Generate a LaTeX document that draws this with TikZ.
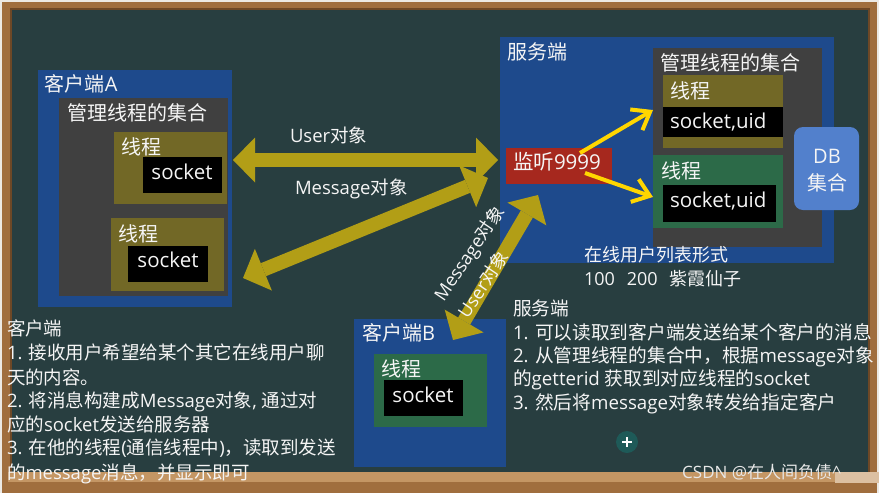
\documentclass[tikz,border=0pt]{standalone}
\usepackage{fontspec}
\setmainfont{Open Sans}
\newfontfamily\cjkf{Noto Sans CJK SC}
\XeTeXinterchartokenstate=1
\newXeTeXintercharclass\cjkclass
\count255="3000 \loop\ifnum\count255<"3040 \XeTeXcharclass\count255=\cjkclass \advance\count255 by 1 \repeat
\count255="4E00 \loop\ifnum\count255<"A000 \XeTeXcharclass\count255=\cjkclass \advance\count255 by 1 \repeat
\count255="FF00 \loop\ifnum\count255<"FFF0 \XeTeXcharclass\count255=\cjkclass \advance\count255 by 1 \repeat
\XeTeXinterchartoks 0 \cjkclass = {\begingroup\cjkf}
\XeTeXinterchartoks 4095 \cjkclass = {\begingroup\cjkf}
\XeTeXinterchartoks \cjkclass 0 = {\endgroup}
\XeTeXinterchartoks \cjkclass 4095 = {\endgroup}
\usetikzlibrary{arrows.meta}
\definecolor{boardc}{RGB}{40,62,64}
\definecolor{woodc}{RGB}{160,110,62}
\definecolor{wooddark}{RGB}{110,72,38}
\definecolor{woodlight}{RGB}{196,150,100}
\definecolor{paperc}{RGB}{236,233,228}
\definecolor{bluec}{RGB}{30,74,140}
\definecolor{grayc}{RGB}{64,64,64}
\definecolor{olivec}{RGB}{114,104,38}
\definecolor{greenc}{RGB}{44,106,72}
\definecolor{redc}{RGB}{166,40,30}
\definecolor{dbc}{RGB}{82,128,204}
\definecolor{goldc}{RGB}{178,158,22}
\definecolor{yellowc}{RGB}{255,214,0}
\definecolor{textc}{RGB}{245,245,245}
\definecolor{iconc}{RGB}{30,90,88}
\newcommand\myfs[1]{\fontsize{#1pt}{#1pt}\selectfont}
\begin{document}
\begin{tikzpicture}[x=1pt,y=-1pt,
 box/.style={anchor=north west,inner sep=0pt,outer sep=0pt,draw=none},
 lab/.style={anchor=base west,inner sep=0pt,outer sep=0pt,text=textc},
 bigarrow/.style={draw=goldc,line width=14pt,{Triangle[length=22pt,width=45pt,line width=0pt]}-{Triangle[length=22pt,width=45pt,line width=0pt]}},
 yarrow/.style={draw=yellowc,line width=4pt,-{Straight Barb[length=16pt,width=24pt]}}]
\useasboundingbox (0,0) rectangle (879,493);
% frame
\fill[paperc] (0,0) rectangle (879,493);
\fill[woodc] (2,2) rectangle (877,493);
\fill[wooddark] (10,8) rectangle (870,474);
\fill[boardc] (12,10) rectangle (868,472);
\fill[woodlight] (8,472) rectangle (872,482);
\fill[woodlight!60!white] (835,472) rectangle (879,483);

% client A
\node[box,fill=bluec,minimum width=194pt,minimum height=237pt] (cA) at (38,70) {};
\node[box,fill=grayc,minimum width=169pt,minimum height=198pt] (gA) at (59,98) {};
\node[box,fill=olivec,minimum width=113pt,minimum height=72pt] (tA1) at (114,132) {};
\node[box,fill=black,minimum width=79pt,minimum height=36pt] (sA1) at (143,157) {};
\node[box,fill=olivec,minimum width=113pt,minimum height=73pt] (tA2) at (111,218) {};
\node[box,fill=black,minimum width=80pt,minimum height=36pt] (sA2) at (128,246) {};
\node[lab,font=\myfs{20}] (tcA) at (45,91) {客户端A};
\node[lab,font=\myfs{20}] (tgA) at (67,120) {管理线程的集合};
\node[lab,font=\myfs{20}] (ttA1) at (121,154) {线程};
\node[lab,font=\myfs{20.5},anchor=base] (tsA1) at (182,179) {socket};
\node[lab,font=\myfs{20}] (ttA2) at (118,241) {线程};
\node[lab,font=\myfs{20.5},anchor=base] (tsA2) at (168,267) {socket};

% server
\node[box,fill=bluec,minimum width=334pt,minimum height=226pt] (srv) at (500,37) {};
\node[box,fill=grayc,minimum width=169pt,minimum height=199pt] (gS) at (653,48) {};
\node[box,fill=olivec,minimum width=120pt,minimum height=73pt] (tS1) at (663,75) {};
\node[box,fill=black,minimum width=120pt,minimum height=30pt] (sS1) at (663,107) {};
\node[box,fill=greenc,minimum width=130pt,minimum height=73pt] (tS2) at (653,155) {};
\node[box,fill=black,minimum width=113pt,minimum height=37pt] (sS2) at (663,185) {};
\node[box,fill=dbc,rounded corners=9pt,minimum width=65pt,minimum height=83pt] (db) at (794,127) {};
\node[box,fill=redc,minimum width=106pt,minimum height=36pt] (lis) at (506,148) {};
\node[lab,font=\myfs{20}] (tsrv) at (507,59) {服务端};
\node[lab,font=\myfs{20}] (tgS) at (660,70) {管理线程的集合};
\node[lab,font=\myfs{20}] (ttS1) at (670,98) {线程};
\node[lab,font=\myfs{20.5}] (tsS1) at (670,128) {socket,uid};
\node[lab,font=\myfs{20}] (ttS2) at (661,178) {线程};
\node[lab,font=\myfs{20.5}] (tsS2) at (670,207) {socket,uid};
\node[lab,font=\myfs{20.5}] (tlis) at (513,169) {监听9999};
\node[lab,font=\myfs{20},anchor=base] (tdb1) at (827,163) {DB};
\node[lab,font=\myfs{20},anchor=base] (tdb2) at (827,190) {集合};
\node[lab,font=\myfs{18}] (tol1) at (584,261) {在线用户列表形式};
\node[lab,font=\myfs{18}] (tol2) at (584,285) {100\hspace{12pt}200\hspace{12pt}紫霞仙子};

% client B
\node[box,fill=bluec,minimum width=152pt,minimum height=148pt] (cB) at (354,319) {};
\node[box,fill=greenc,minimum width=113pt,minimum height=73pt] (tB) at (374,354) {};
\node[box,fill=black,minimum width=79pt,minimum height=36pt] (sB) at (384,380) {};
\node[lab,font=\myfs{20}] (tcB) at (362,340) {客户端B};
\node[lab,font=\myfs{20}] (ttB) at (381,376) {线程};
\node[lab,font=\myfs{20.5},anchor=base] (tsB) at (423,402) {socket};

% big arrows
\coordinate (uA) at (233,160); \coordinate (uS) at (498,160);
\coordinate (mA) at (243,278); \coordinate (mS) at (488,178);
\coordinate (bB) at (453,340); \coordinate (bS) at (538,195);
\draw[bigarrow] (uA) -- (uS);
\draw[bigarrow] (mA) -- (mS);
\draw[bigarrow] (bB) -- (bS);
\node[lab,font=\myfs{18.5}] (lU) at (290,142) {User对象};
\node[lab,font=\myfs{18.5}] (lM) at (295,194) {Message对象};
\node[text=textc,font=\myfs{18},rotate=56,inner sep=0pt] (lbM) at (470,254) {Message对象};
\node[text=textc,font=\myfs{18},rotate=56,inner sep=0pt] (lbU) at (483,284) {User对象};

% yellow arrows
\coordinate (y1s) at (580,153); \coordinate (y1e) at (653,110);
\coordinate (y2s) at (585,173); \coordinate (y2e) at (653,197);
\draw[yarrow] (y1s) -- (y1e);
\draw[yarrow] (y2s) -- (y2e);

% texts
\node[lab,font=\myfs{18.5}] (l1) at (7,335) {客户端};
\node[lab,font=\myfs{18.5}] (l2) at (7,359) {1. 接收用户希望给某个其它在线用户聊};
\node[lab,font=\myfs{18.5}] (l3) at (7,384) {天的内容。};
\node[lab,font=\myfs{18.5}] (l4) at (7,407) {2. 将消息构建成Message对象, 通过对};
\node[lab,font=\myfs{18.5}] (l5) at (7,431) {应的socket发送给服务器};
\node[lab,font=\myfs{18.5}] (l6) at (7,454) {3. 在他的线程(通信线程中)，读取到发送};
\node[lab,font=\myfs{18.5}] (l7) at (7,479) {的message消息，并显示即可};

\node[lab,font=\myfs{18.7}] (r0) at (513,315) {服务端};
\node[lab,font=\myfs{18.7}] (r1) at (513,339) {1. 可以读取到客户端发送给某个客户的消息};
\node[lab,font=\myfs{18.7}] (r2) at (513,362) {2. 从管理线程的集合中，根据message对象};
\node[lab,font=\myfs{18.7}] (r3) at (513,385) {的getterid 获取到对应线程的socket};
\node[lab,font=\myfs{18.7}] (r4) at (513,409) {3. 然后将message对象转发给指定客户};

% icon and watermark
\node[circle,fill=iconc,minimum size=22pt,inner sep=0pt] (ic) at (627,442) {};
\draw[white,line width=1.2pt] ([xshift=-5pt]ic.center) -- ([xshift=5pt]ic.center);
\draw[white,line width=1.2pt] ([yshift=-5pt]ic.center) -- ([yshift=5pt]ic.center);
\node[anchor=base west,inner sep=0pt,text=white!82!gray,font=\myfs{17}] (wm) at (682,478) {CSDN @在人间负债\textasciicircum};
\end{tikzpicture}
\end{document}
